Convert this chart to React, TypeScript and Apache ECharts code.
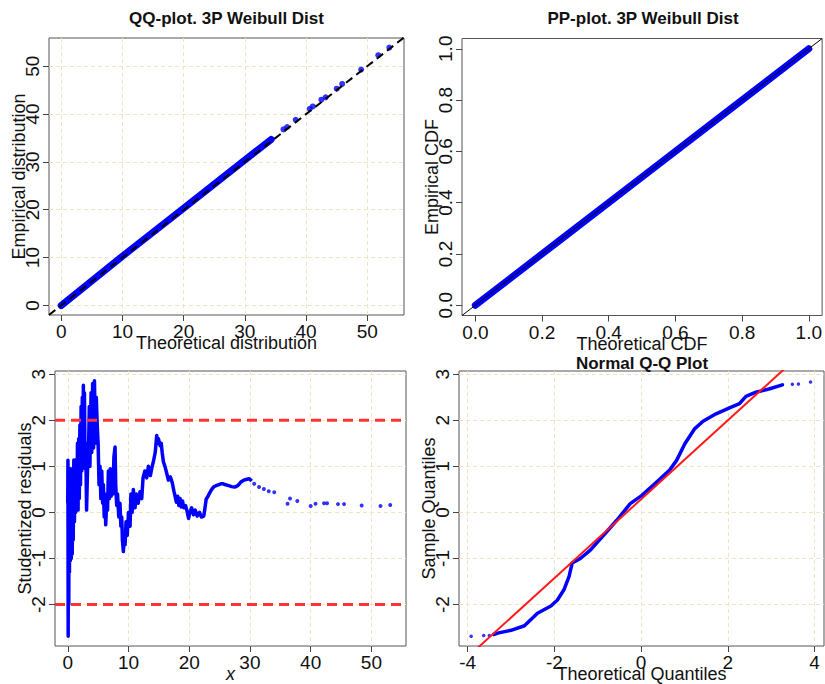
import React, { useEffect, useRef } from "react";
import * as echarts from "echarts";

// ---------- Panel 1: QQ-plot (theoretical vs empirical quantiles) ----------
const qqTicks = [0, 10, 20, 30, 40, 50];
const qqBandTheo = [0, 10, 20, 30, 34.3];
const qqBandEmp = [0, 10.3, 20.3, 30.4, 34.7];
const qqTailTheo = [36.3, 36.9, 38.3, 40.6, 41.1, 42.5, 43.2, 45.0, 45.9, 49.0, 51.8, 53.6];
const qqTailEmp = [36.8, 37.3, 38.8, 41.1, 41.6, 43.0, 43.5, 45.3, 46.3, 49.3, 52.3, 53.9];
const qqRefX = [-2, 56];
const qqRefY = [-2, 56];

// ---------- Panel 2: PP-plot ----------
const ppTicks = [0, 0.2, 0.4, 0.6, 0.8, 1.0];
const ppTheo = [0, 0.25, 0.5, 0.75, 1.0];
const ppEmp = [0, 0.25, 0.5, 0.75, 1.0];
const ppRefX = [-0.04, 1.04];
const ppRefY = [-0.04, 1.04];

// ---------- Panel 3: studentized residuals vs x ----------
const resXTicks = [0, 10, 20, 30, 40, 50];
const resYTicks = [-2, -1, 0, 1, 2, 3];
const resDenseX = [
  0.0, 0.03, 0.07, 0.12, 0.17, 0.22, 0.28, 0.35, 0.42, 0.5, 0.58, 0.66, 0.74, 0.82, 0.9,
  1.0, 1.1, 1.2, 1.3, 1.4, 1.5, 1.6, 1.7, 1.8, 1.9, 2.0, 2.1, 2.2, 2.3, 2.4, 2.5, 2.57,
  2.65, 2.75, 2.85, 2.96, 3.1, 3.25, 3.4, 3.55, 3.65, 3.84, 3.95, 4.1, 4.25, 4.4, 4.55,
  4.7, 4.85, 5.0, 5.15, 5.32, 5.45, 5.6, 5.75, 5.87, 6.0, 6.1, 6.25, 6.4, 6.55, 6.69,
  6.85, 7.0, 7.15, 7.3, 7.45, 7.6, 7.79, 7.9, 8.06, 8.2, 8.4, 8.6, 8.75, 8.89, 9.0, 9.16,
  9.3, 9.44, 9.6, 9.8, 10.0, 10.26, 10.4, 10.6, 10.8, 11.08, 11.3, 11.6, 11.9, 12.18,
  12.4, 12.7, 13.0, 13.28, 13.6, 13.9, 14.1, 14.4, 14.65, 14.8, 14.93, 15.2, 15.4, 15.55,
  15.75, 16.0, 16.3, 16.57, 16.9, 17.2, 17.5, 17.7, 17.9, 18.1, 18.3, 18.5, 18.7, 18.9,
  19.1, 19.4, 19.6, 19.9, 20.1, 20.4, 20.7, 21.0, 21.3, 21.7, 22.0, 22.4, 22.6, 22.8,
  23.1, 23.4, 23.7, 24.0, 24.4, 24.8, 25.2, 25.6, 26.0, 26.5, 27.0, 27.5, 28.0, 28.5,
  29.0, 29.5, 29.9, 30.3,
];
const resDenseY = [
  0.2, 1.13, -2.69, 0.6, -2.0, 0.95, -1.3, 0.9, -1.05, 0.95, -1.0, 0.7, -0.9, 0.95, -0.6,
  1.14, -0.2, 1.1, 0.0, 1.15, 0.1, 1.5, 0.05, 1.6, 0.3, 1.9, 0.6, 2.3, 0.9, 2.5, 1.1, 2.76,
  1.2, 2.6, 0.95, 1.5, 0.05, 0.9, 1.2, 2.3, 1.0, 2.6, 1.3, 2.8, 1.4, 2.86, 1.5,
  2.5, 1.9, 1.5, 0.6, 1.0, 0.3, 0.9, 0.2, 0.6, -0.1, 0.4, -0.27, 0.2, 0.05, 0.9,
  0.3, 0.95, 0.35, 0.9, 0.4, 1.2, 1.42, 0.6, 0.15, 0.4, -0.1, 0.2, -0.3, -0.1, -0.6, -0.85,
  -0.55, -0.7, -0.2, -0.5, 0.0, -0.3, 0.4, 0.0, 0.5, 0.1, 0.4, 0.2, 0.45, 0.3,
  0.75, 0.9, 0.75, 1.0, 0.8, 1.0, 1.1, 1.3, 1.67, 1.5, 1.6, 1.45, 1.5, 1.3,
  1.1, 1.0, 0.85, 0.7, 0.77, 0.65, 0.45, 0.34, 0.22, 0.35, 0.15, 0.3, 0.12, 0.25,
  0.1, 0.15, 0.05, -0.13, 0.0, 0.1, -0.05, 0.05, -0.08, 0.0, -0.1, -0.08, 0.1, 0.29,
  0.35, 0.43, 0.5, 0.55, 0.58, 0.6, 0.62, 0.62, 0.6, 0.58, 0.56, 0.55, 0.58, 0.66,
  0.7, 0.72, 0.73, 0.68,
];
const resSparseX = [30.7, 31.5, 32.3, 33.1, 34.0, 36.2, 36.6, 37.8, 40.0, 40.8, 42.2, 42.7, 44.5, 45.5, 48.4, 51.5, 53.1];
const resSparseY = [0.62, 0.55, 0.51, 0.46, 0.44, 0.19, 0.3, 0.25, 0.14, 0.19, 0.2, 0.2, 0.18, 0.18, 0.15, 0.14, 0.16];
const resLimitLevels = [2, -2];

// ---------- Panel 4: Normal Q-Q plot ----------
const nqqXTicks = [-4, -2, 0, 2, 4];
const nqqYTicks = [-2, -1, 0, 1, 2, 3];
const nqqX = [-3.4, -3.31, -3.0, -2.69, -2.39, -2.08, -1.93, -1.78, -1.66, -1.59, -1.4, -1.17, -0.86, -0.56, -0.25, 0.02, 0.36, 0.66, 0.82, 1.01, 1.24, 1.43, 1.73, 2.04, 2.27, 2.42, 2.65, 2.95, 3.26];
const nqqY = [-2.65, -2.62, -2.56, -2.46, -2.19, -2.03, -1.9, -1.68, -1.39, -1.1, -1.0, -0.82, -0.49, -0.17, 0.19, 0.37, 0.66, 0.92, 1.13, 1.49, 1.82, 1.98, 2.14, 2.27, 2.36, 2.52, 2.61, 2.68, 2.77];
const nqqTailX = [-3.92, -3.63, -3.5, 3.49, 3.63, 3.91];
const nqqTailY = [-2.69, -2.67, -2.67, 2.78, 2.79, 2.83];
const nqqLineX = [-4.2, 4.2];
const nqqLineY = [-3.31, 3.88];

const FONT = '"Liberation Sans", Arial, Helvetica, sans-serif';
const BLUE = "#0000ff";

const pairs = (xs: number[], ys: number[]) => xs.map((x, i) => [x, ys[i]]);

const gridLine = { show: true, lineStyle: { color: "#efe4c4", type: [4, 3], width: 1 } };

function makeAxis(
  dim: "x" | "y",
  gridIndex: number,
  min: number,
  max: number,
  ticks: number[],
  name: string,
  split: boolean,
  fmt?: (v: number) => string,
  italic = false
) {
  return {
    type: "value",
    gridIndex,
    min,
    max,
    splitNumber: 5,
    name,
    nameLocation: "middle",
    nameGap: dim === "x" ? 19 : 21,
    nameMoveOverlap: false,
    nameTextStyle: {
      fontSize: 18,
      color: "#111",
      fontFamily: FONT,
      fontStyle: italic ? "italic" : "normal",
    },
    axisLine: { show: false, onZero: false },
    axisTick: { show: true, length: 6, customValues: ticks, lineStyle: { color: "#444" } },
    axisLabel: {
      customValues: ticks,
      margin: 7,
      rotate: dim === "y" ? 90 : 0,
      fontSize: 19,
      color: "#111",
      fontFamily: FONT,
      formatter: fmt ? fmt : (v: number) => String(v),
    },
    splitLine: split ? gridLine : { show: false },
  };
}

function lineSeries(xi: number, data: number[][], lineStyle: any) {
  return {
    type: "line",
    xAxisIndex: xi,
    yAxisIndex: xi,
    data,
    symbol: "none",
    showSymbol: false,
    clip: true,
    silent: true,
    lineStyle,
  };
}

function scatterSeries(xi: number, data: number[][], size: number) {
  return {
    type: "scatter",
    xAxisIndex: xi,
    yAxisIndex: xi,
    data,
    symbolSize: size,
    silent: true,
    itemStyle: { color: BLUE },
  };
}

export default function App() {
  const ref = useRef<HTMLDivElement>(null);
  useEffect(() => {
    if (!ref.current) return;
    const chart = echarts.init(ref.current, undefined, { renderer: "svg" });
    const gridBase = { show: true, borderColor: "#555", borderWidth: 1, backgroundColor: "transparent", containLabel: false };
    const titleStyle = (text: string, x: number, y: number) => ({
      type: "text",
      x,
      y,
      silent: true,
      style: {
        text,
        align: "center",
        verticalAlign: "middle",
        fontSize: 17,
        fontWeight: "bold",
        fontFamily: FONT,
        fill: "#111",
      },
    });
    const fmt1 = (v: number) => v.toFixed(1);
    chart.setOption({
      animation: false,
      backgroundColor: "#fff",
      grid: [
        { ...gridBase, left: 49, top: 38, width: 355, height: 277 },
        { ...gridBase, left: 462, top: 38.5, width: 362, height: 277 },
        { ...gridBase, left: 55, top: 371, width: 351, height: 276 },
        { ...gridBase, left: 459, top: 371, width: 365, height: 276 },
      ],
      xAxis: [
        makeAxis("x", 0, -2, 56, qqTicks, "Theoretical distribution", true),
        makeAxis("x", 1, -0.04, 1.04, ppTicks, "Theoretical CDF", false, fmt1),
        makeAxis("x", 2, -2.1, 55.7, resXTicks, "x", true, undefined, true),
        makeAxis("x", 3, -4.2, 4.22, nqqXTicks, "Theoretical Quantiles", true),
      ],
      yAxis: [
        makeAxis("y", 0, -2, 55.9, qqTicks, "Empirical distribution", true),
        makeAxis("y", 1, -0.04, 1.04, ppTicks, "Empirical CDF", false, fmt1),
        makeAxis("y", 2, -2.9, 3.07, resYTicks, "Studentized residuals", true),
        makeAxis("y", 3, -2.9, 3.07, nqqYTicks, "Sample Quantiles", true),
      ],
      graphic: [
        titleStyle("QQ-plot. 3P Weibull Dist", 226.5, 18),
        titleStyle("PP-plot. 3P Weibull Dist", 643, 18),
        titleStyle("Normal Q-Q Plot", 642, 363),
      ],
      series: [
        // panel 1
        lineSeries(0, pairs(qqBandTheo, qqBandEmp), { color: BLUE, width: 7, cap: "round" }),
        scatterSeries(0, pairs(qqTailTheo, qqTailEmp), 6),
        lineSeries(0, pairs(qqRefX, qqRefY), { color: "#000", width: 2, type: [8, 5] }),
        // panel 2
        lineSeries(1, pairs(ppTheo, ppEmp), { color: BLUE, width: 7, cap: "round" }),
        lineSeries(1, pairs(ppRefX, ppRefY), { color: "#000", width: 1 }),
        // panel 3
        lineSeries(2, pairs(resDenseX, resDenseY), { color: BLUE, width: 3.5, join: "round" }),
        scatterSeries(2, pairs(resSparseX, resSparseY), 4),
        ...resLimitLevels.map((lv) =>
          lineSeries(2, [[-2.1, lv], [55.7, lv]], { color: "#ff3333", width: 3, type: [10, 6] })
        ),
        // panel 4
        lineSeries(3, pairs(nqqX, nqqY), { color: BLUE, width: 3.5, join: "round", cap: "round" }),
        scatterSeries(3, pairs(nqqTailX, nqqTailY), 3.5),
        lineSeries(3, pairs(nqqLineX, nqqLineY), { color: "#ff1a1a", width: 2 }),
      ],
    });
    return () => chart.dispose();
  }, []);
  return (
    <div
      ref={ref}
      style={{ position: "absolute", left: 0, top: 0, width: 825, height: 684, background: "#fff" }}
    />
  );
}
